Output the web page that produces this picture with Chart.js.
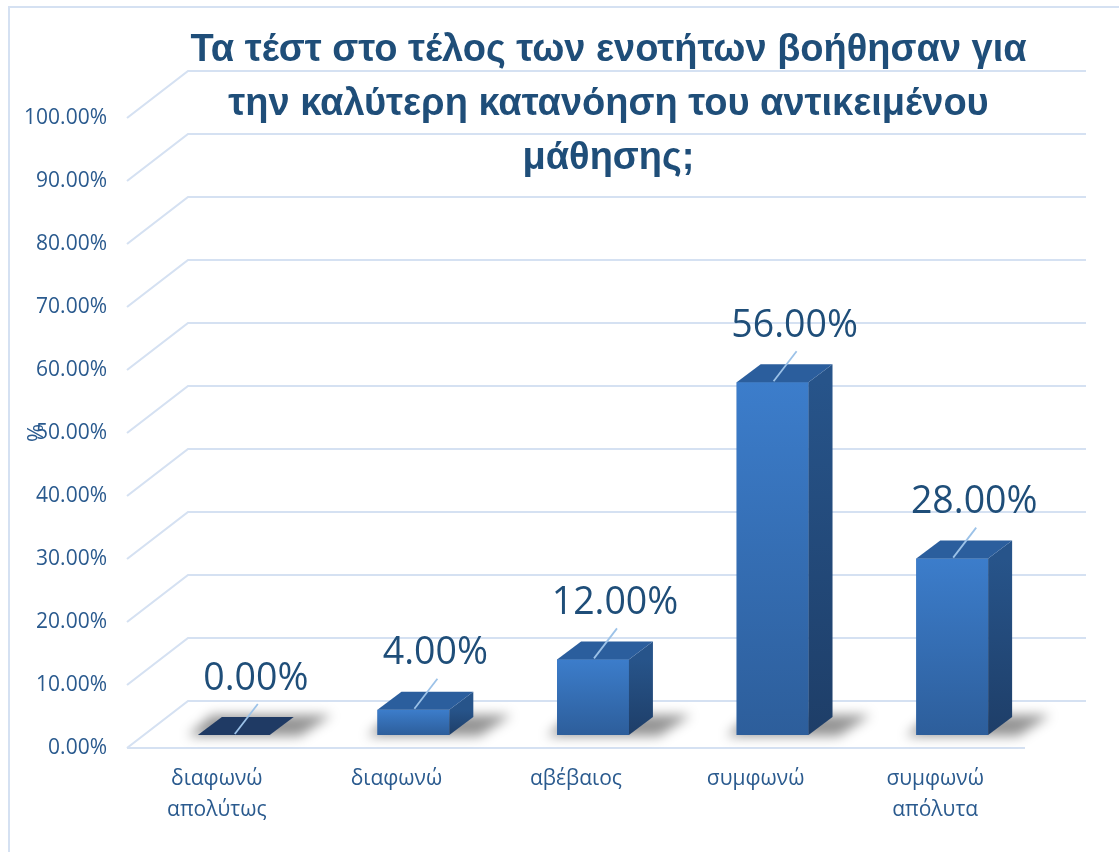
<!DOCTYPE html>
<html>
<head>
<meta charset="utf-8">
<script src="https://cdn.jsdelivr.net/npm/chart.js@4.4.1/dist/chart.umd.min.js"></script>
<style>
html,body{margin:0;padding:0;background:#ffffff;}
#wrap{position:relative;width:1119px;height:852px;}
</style>
</head>
<body>
<div id="wrap"><canvas id="c" width="1119" height="852"></canvas></div>
<script>
// ---- data ----
const titleLines = ['Τα τέστ στο τέλος των ενοτήτων βοήθησαν για', 'την καλύτερη κατανόηση του αντικειμένου', 'μάθησης;'];
const categories = [['διαφωνώ', 'απολύτως'], 'διαφωνώ', 'αβέβαιος', 'συμφωνώ', ['συμφωνώ', 'απόλυτα']];
const values = [0, 0.04, 0.12, 0.56, 0.28];
const yMin = 0, yMax = 1, yStep = 0.1;
const yAxisTitle = '%';

// ---- styling (not data) ----
const WALL = {dx: 61, dy: -47};      // depth of the 3D box
const BARPOS = {dx: 17, dy: -13};    // offset of bar front face from the front wall
const BARDEPTH = {dx: 24, dy: -18};  // depth of each bar
const gridColor = '#D5E1F2';
const textDark = '#1F4E79';
const tickColor = '#2A5A8E';

function pct(v){ return (v * 100).toFixed(2) + '%'; }

const threeD = {
  id: 'threeD',
  beforeDraw(chart){
    const ctx = chart.ctx;
    ctx.save();
    ctx.strokeStyle = gridColor;
    ctx.lineWidth = 2;
    ctx.beginPath();
    ctx.moveTo(9, 852); ctx.lineTo(9, 7); ctx.lineTo(1119, 7);
    ctx.stroke();
    ctx.restore();
  },
  beforeDatasetsDraw(chart){
    const ctx = chart.ctx, y = chart.scales.y, a = chart.chartArea;
    ctx.save();
    ctx.strokeStyle = gridColor;
    ctx.lineWidth = 2.2;
    y.ticks.forEach(t => {
      const py = y.getPixelForValue(t.value);
      ctx.beginPath();
      ctx.moveTo(a.left, py);
      ctx.lineTo(a.left + WALL.dx, py + WALL.dy);
      ctx.lineTo(a.right + WALL.dx, py + WALL.dy);
      ctx.stroke();
      if (t.value === yMin) {
        ctx.beginPath();
        ctx.moveTo(a.left, py); ctx.lineTo(a.right, py); ctx.stroke();
      }
    });
    // soft floor shadows behind bars
    const meta = chart.getDatasetMeta(0);
    ctx.translate(BARPOS.dx, BARPOS.dy);
    ctx.filter = 'blur(6px)';
    ctx.fillStyle = 'rgba(0,0,0,0.42)';
    meta.data.forEach(b => {
      const l = b.x - b.width / 2, r = b.x + b.width / 2, base = b.base;
      ctx.beginPath();
      ctx.moveTo(l - 10, base + 1);
      ctx.lineTo(r + 30, base + 1);
      ctx.lineTo(r + 62, base + BARDEPTH.dy - 2);
      ctx.lineTo(l + 14, base + BARDEPTH.dy - 2);
      ctx.closePath();
      ctx.fill();
    });
    ctx.filter = 'none';
    ctx.restore();
  },
  beforeDatasetDraw(chart){
    chart.ctx.save();
    chart.ctx.translate(BARPOS.dx, BARPOS.dy);
  },
  afterDatasetDraw(chart, args){
    const ctx = chart.ctx;
    const meta = chart.getDatasetMeta(args.index);
    meta.data.forEach((b, i) => {
      const l = b.x - b.width / 2, r = b.x + b.width / 2, top = b.y, base = b.base;
      const ddx = BARDEPTH.dx, ddy = BARDEPTH.dy;
      if (base - top > 0.5) {
        const g = ctx.createLinearGradient(0, top, 0, base);
        g.addColorStop(0, '#3C7DCB');
        g.addColorStop(1, '#2D5E9B');
        ctx.fillStyle = g;
        ctx.fillRect(l, top, r - l, base - top);
        const gs = ctx.createLinearGradient(0, top, 0, base);
        gs.addColorStop(0, '#27548A');
        gs.addColorStop(1, '#1E3E68');
        ctx.fillStyle = gs;
        ctx.beginPath();
        ctx.moveTo(r, top); ctx.lineTo(r + ddx, top + ddy);
        ctx.lineTo(r + ddx, base + ddy); ctx.lineTo(r, base);
        ctx.closePath(); ctx.fill();
      }
      ctx.fillStyle = (values[i] === 0) ? '#1F3A64' : '#2B5E9D';
      ctx.beginPath();
      ctx.moveTo(l, top); ctx.lineTo(r, top);
      ctx.lineTo(r + ddx, top + ddy); ctx.lineTo(l + ddx, top + ddy);
      ctx.closePath(); ctx.fill();
      ctx.strokeStyle = '#9CC2E8';
      ctx.lineWidth = 1.8;
      ctx.beginPath();
      ctx.moveTo(b.x + 1, top - 1);
      ctx.lineTo(b.x + 24, top - 31);
      ctx.stroke();
      ctx.fillStyle = textDark;
      ctx.font = '37.5px "Open Sans", "Liberation Sans", sans-serif';
      ctx.textAlign = 'center';
      ctx.textBaseline = 'middle';
      ctx.fillText(pct(values[i]), b.x + 22, top - 56);
    });
    ctx.restore();
  },
  afterDraw(chart){
    const ctx = chart.ctx, a = chart.chartArea;
    ctx.save();
    ctx.translate(37, (a.top + a.bottom) / 2);
    ctx.rotate(-Math.PI / 2);
    ctx.fillStyle = tickColor;
    ctx.font = '22px "Open Sans", "Liberation Sans", sans-serif';
    ctx.textAlign = 'center'; ctx.textBaseline = 'middle';
    ctx.fillText(yAxisTitle, 0, 0);
    ctx.restore();
    ctx.save();
    ctx.fillStyle = textDark;
    ctx.font = 'bold 38px "Liberation Sans", Arial, sans-serif';
    ctx.textAlign = 'center'; ctx.textBaseline = 'middle';
    const cx = (a.left + a.right + WALL.dx) / 2 + 2;
    titleLines.forEach((t, k) => ctx.fillText(t, cx, 51 + k * 54));
    ctx.restore();
  }
};

new Chart(document.getElementById('c'), {
  type: 'bar',
  data: {
    labels: categories,
    datasets: [{
      label: '%',
      data: values,
      backgroundColor: '#336AB0',
      borderWidth: 0,
      barPercentage: 0.4,
      categoryPercentage: 1.0
    }]
  },
  options: {
    responsive: false,
    animation: false,
    layout: {padding: {left: 0, top: 118, right: 94, bottom: 0}},
    plugins: {legend: {display: false}, tooltip: {enabled: false}, title: {display: false}},
    scales: {
      x: {
        grid: {display: false, drawTicks: false},
        border: {display: false},
        ticks: {color: tickColor, font: {family: '"Open Sans", "Liberation Sans", sans-serif', size: 21, lineHeight: 1.45}, padding: 16, maxRotation: 0, autoSkip: false},
        afterFit(s){ s.height = 104; }
      },
      y: {
        min: yMin, max: yMax,
        grid: {display: false, drawTicks: false},
        border: {display: false},
        ticks: {stepSize: yStep, color: tickColor, font: {family: '"Open Sans", "Liberation Sans", sans-serif', size: 21}, padding: 20, callback: v => pct(v)},
        afterFit(s){ s.width = 127; }
      }
    }
  },
  plugins: [threeD]
});
</script>
</body>
</html>
